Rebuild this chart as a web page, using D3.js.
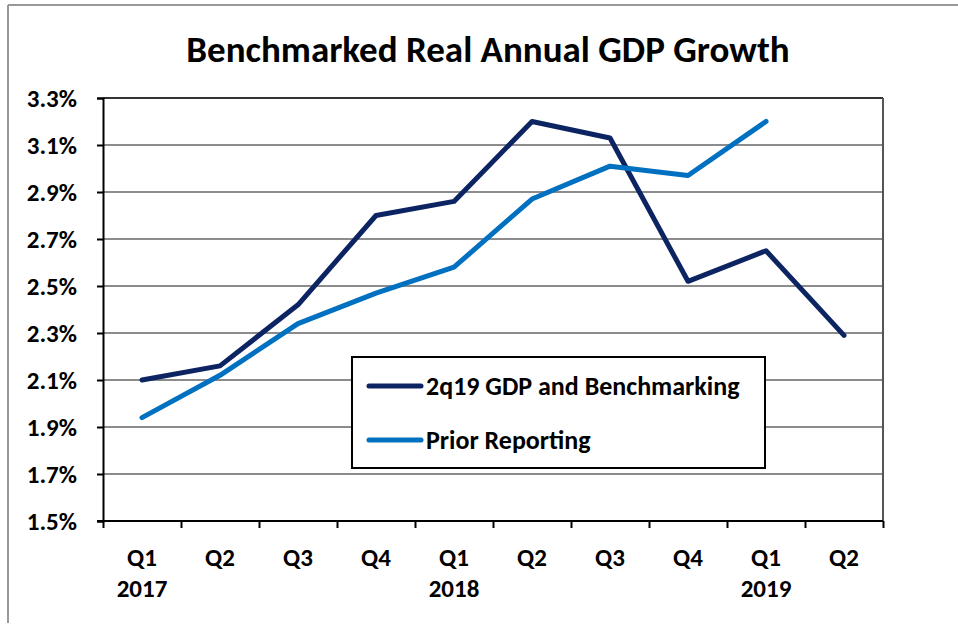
<!DOCTYPE html>
<html>
  <head>
    <title>Benchmarked Real Annual GDP Growth</title>
    <script src="https://d3js.org/d3.v7.min.js"></script>
    <style>
      body { margin: 0; background: #fff; }
      text { font-family: Carlito, "Open Sans", "Noto Sans", sans-serif; font-weight: bold; fill: #000; }
    </style>
  </head>
  <body>
    <div id="chart"></div>
    <script>
      // Data
      var quarters = ["Q1", "Q2", "Q3", "Q4", "Q1", "Q2", "Q3", "Q4", "Q1", "Q2"];
      var years = ["2017", "", "", "", "2018", "", "", "", "2019", ""];
      var benchmarked = [2.10, 2.16, 2.42, 2.80, 2.86, 3.20, 3.13, 2.52, 2.65, 2.29];
      var prior = [1.94, 2.12, 2.34, 2.47, 2.58, 2.87, 3.01, 2.97, 3.20, null];
      var yTicks = [1.5, 1.7, 1.9, 2.1, 2.3, 2.5, 2.7, 2.9, 3.1, 3.3];
      var seriesNames = ["2q19 GDP and Benchmarking", "Prior Reporting"];
      var seriesColors = ["#0c2461", "#0070c0"];

      var width = 958, height = 627;
      var plotLeft = 103, plotRight = 883, plotTop = 98, plotBottom = 521;

      var svg = d3.select("#chart")
        .append("svg")
        .attr("width", width)
        .attr("height", height);

      // outer frame (top and left edges only, as in the picture)
      svg.append("line").attr("x1", 8).attr("x2", width).attr("y1", 5).attr("y2", 5)
        .attr("stroke", "#999").attr("stroke-width", 2);
      svg.append("line").attr("x1", 8).attr("x2", 8).attr("y1", 5).attr("y2", 623)
        .attr("stroke", "#999").attr("stroke-width", 2);

      // title
      svg.append("text")
        .attr("x", 488)
        .attr("y", 62)
        .attr("text-anchor", "middle")
        .style("font-size", "37px")
        .text("Benchmarked Real Annual GDP Growth");

      var x = d3.scaleBand()
        .domain(d3.range(quarters.length))
        .range([plotLeft, plotRight]);

      var xEdges = d3.scaleLinear()
        .domain([0, quarters.length])
        .range([plotLeft, plotRight]);

      var y = d3.scaleLinear()
        .domain([1.5, 3.3])
        .range([plotBottom, plotTop]);

      // gridlines
      svg.append("g")
        .selectAll("line")
        .data(yTicks.slice(1, -1))
        .enter()
        .append("line")
        .attr("x1", plotLeft)
        .attr("x2", plotRight)
        .attr("y1", function(d) { return y(d); })
        .attr("y2", function(d) { return y(d); })
        .attr("stroke", "#8c8c8c")
        .attr("stroke-width", 2);

      // plot frame top and right
      svg.append("line").attr("x1", plotLeft).attr("x2", plotRight).attr("y1", plotTop).attr("y2", plotTop)
        .attr("stroke", "#333").attr("stroke-width", 2);
      svg.append("line").attr("x1", plotRight).attr("x2", plotRight).attr("y1", plotTop).attr("y2", plotBottom)
        .attr("stroke", "#555").attr("stroke-width", 2);

      // y axis
      var yAxis = svg.append("g")
        .attr("transform", "translate(" + plotLeft + ",0)")
        .call(d3.axisLeft(y).tickValues(yTicks).tickSize(6).tickPadding(20)
          .tickFormat(function(d) { return d.toFixed(1) + "%"; }));
      yAxis.select(".domain").attr("stroke", "#000").attr("stroke-width", 2);
      yAxis.selectAll(".tick line").attr("stroke", "#000").attr("stroke-width", 2);
      yAxis.selectAll(".tick text").style("font-size", "25px").attr("dy", "0.35em");

      // x axis (ticks on category edges)
      var xAxis = svg.append("g")
        .attr("transform", "translate(0," + plotBottom + ")")
        .call(d3.axisBottom(xEdges).ticks(quarters.length).tickSize(7).tickFormat(""));
      xAxis.select(".domain").attr("stroke", "#000").attr("stroke-width", 2)
        .attr("d", "M" + (plotLeft - 6) + ",0H" + plotRight);
      xAxis.selectAll(".tick line").attr("stroke", "#000").attr("stroke-width", 2);

      // category labels
      svg.append("g")
        .selectAll("text")
        .data(quarters)
        .enter()
        .append("text")
        .attr("x", function(d, i) { return x(i) + x.bandwidth() / 2; })
        .attr("y", 566)
        .attr("text-anchor", "middle")
        .style("font-size", "25px")
        .text(function(d) { return d; });

      svg.append("g")
        .selectAll("text")
        .data(years)
        .enter()
        .append("text")
        .attr("x", function(d, i) { return x(i) + x.bandwidth() / 2; })
        .attr("y", 597)
        .attr("text-anchor", "middle")
        .style("font-size", "25px")
        .text(function(d) { return d; });

      // lines
      var line = d3.line()
        .defined(function(d) { return d != null; })
        .x(function(d, i) { return x(i) + x.bandwidth() / 2; })
        .y(function(d) { return y(d); });

      [benchmarked, prior].forEach(function(s, k) {
        svg.append("path")
          .datum(s)
          .attr("d", line)
          .attr("fill", "none")
          .attr("stroke", seriesColors[k])
          .attr("stroke-width", 5)
          .attr("stroke-linecap", "round")
          .attr("stroke-linejoin", "round");
      });

      // legend
      var legend = svg.append("g");
      legend.append("rect")
        .attr("x", 352).attr("y", 357)
        .attr("width", 413).attr("height", 111)
        .attr("fill", "#fff")
        .attr("stroke", "#000")
        .attr("stroke-width", 2);

      seriesNames.forEach(function(name, k) {
        var ly = 386 + k * 54;
        legend.append("line")
          .attr("x1", 369).attr("x2", 421)
          .attr("y1", ly).attr("y2", ly)
          .attr("stroke", seriesColors[k])
          .attr("stroke-width", 5)
          .attr("stroke-linecap", "round");
        legend.append("text")
          .attr("x", 426)
          .attr("y", ly)
          .attr("dy", "0.35em")
          .style("font-size", "26px")
          .text(name);
      });
    </script>
  </body>
</html>
